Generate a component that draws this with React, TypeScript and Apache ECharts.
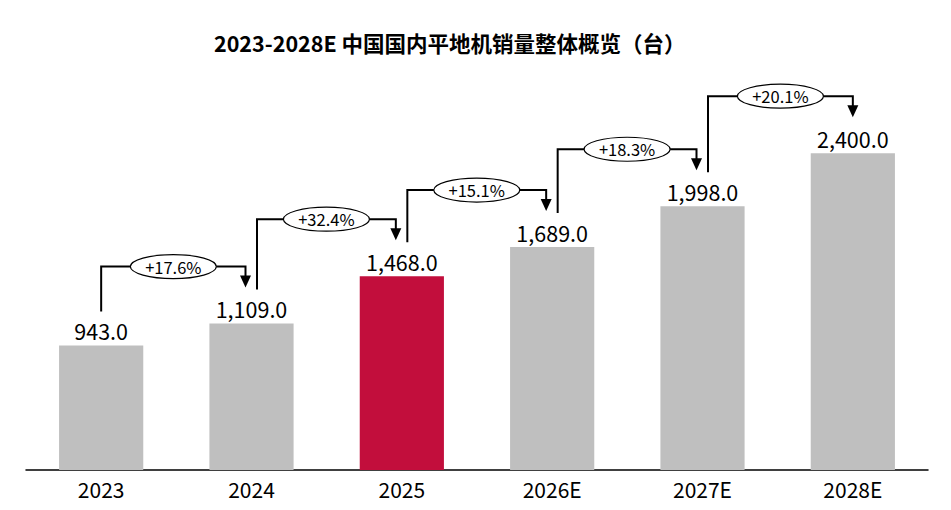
import React, { useEffect, useRef } from "react";
import * as echarts from "echarts";

const years = ["2023", "2024", "2025", "2026E", "2027E", "2028E"];
const sales = [943, 1109, 1468, 1689, 1998, 2400];
const growth = ["+17.6%", "+32.4%", "+15.1%", "+18.3%", "+20.1%"];
const highlightIndex = 2;
const titleText = "2023-2028E 中国国内平地机销量整体概览（台）";

const FONT = "'Noto Sans CJK SC', 'Noto Sans', sans-serif";
const GRAY = "#bfbfbf";
const RED = "#c20e3c";

export default function App() {
  const ref = useRef<HTMLDivElement>(null);

  useEffect(() => {
    document.body.style.margin = "0";
    const chart = echarts.init(ref.current!, null, { renderer: "svg" });
    const n = sales.length;
    const arrowData = growth.map((_, i) => [i, sales[i], sales[i + 1]]);

    chart.setOption({
      animation: false,
      backgroundColor: "#ffffff",
      title: {
        text: titleText,
        left: 214,
        top: 32,
        padding: 0,
        textStyle: { fontFamily: FONT, fontSize: 21.5, fontWeight: "bold", color: "#000" },
      },
      grid: { left: 26, right: 23, top: 74, bottom: 40 },
      xAxis: {
        type: "category",
        data: years,
        axisLine: { lineStyle: { color: "#000", width: 1.5 } },
        axisTick: { show: false },
        axisLabel: { fontFamily: FONT, fontSize: 21, color: "#000", margin: 8 },
      },
      yAxis: { type: "value", min: 0, max: 3000, show: false, splitLine: { show: false } },
      series: [
        {
          type: "bar",
          barWidth: "56%",
          data: sales.map((v, i) => ({
            value: v,
            itemStyle: { color: i === highlightIndex ? RED : GRAY },
          })),
          label: {
            show: true,
            position: "top",
            distance: 4,
            fontFamily: FONT,
            fontSize: 21.5,
            color: "#000",
            formatter: (p: any) =>
              Number(p.value).toLocaleString("en-US", {
                minimumFractionDigits: 1,
                maximumFractionDigits: 1,
              }),
          },
        },
        {
          type: "custom",
          silent: true,
          clip: false,
          encode: { x: 0, y: 1 },
          data: arrowData,
          z: 5,
          renderItem: (params: any, api: any) => {
            const i = api.value(0);
            const p0 = api.coord([i, api.value(1)]);
            const p1 = api.coord([i + 1, api.value(2)]);
            const x0 = p0[0] + (i > 0 ? 5.5 : 0);
            const x1 = p1[0] - (i + 1 < n - 1 ? 6 : 0);
            const yStart = p0[1] - 34;
            const yH = p1[1] - 57;
            const yTip = p1[1] - 36;
            const cx = (x0 + x1) / 2;
            return {
              type: "group",
              children: [
                {
                  type: "polyline",
                  shape: {
                    points: [
                      [x0, yStart],
                      [x0, yH],
                      [x1, yH],
                      [x1, yTip - 10],
                    ],
                  },
                  style: { stroke: "#000", lineWidth: 2, fill: null },
                },
                {
                  type: "polygon",
                  shape: {
                    points: [
                      [x1 - 5.5, yTip - 12],
                      [x1 + 5.5, yTip - 12],
                      [x1, yTip],
                    ],
                  },
                  style: { fill: "#000" },
                },
                {
                  type: "ellipse",
                  shape: { cx, cy: yH, rx: 43, ry: 12 },
                  style: { fill: "#fff", stroke: "#000", lineWidth: 1.2 },
                },
                {
                  type: "text",
                  x: cx,
                  y: yH,
                  style: {
                    text: growth[params.dataIndex],
                    align: "center",
                    verticalAlign: "middle",
                    fontFamily: FONT,
                    fontSize: 16.5,
                    fill: "#000",
                  },
                },
              ],
            };
          },
        },
      ],
    });
    return () => chart.dispose();
  }, []);

  return <div ref={ref} style={{ width: 951, height: 510 }} />;
}
